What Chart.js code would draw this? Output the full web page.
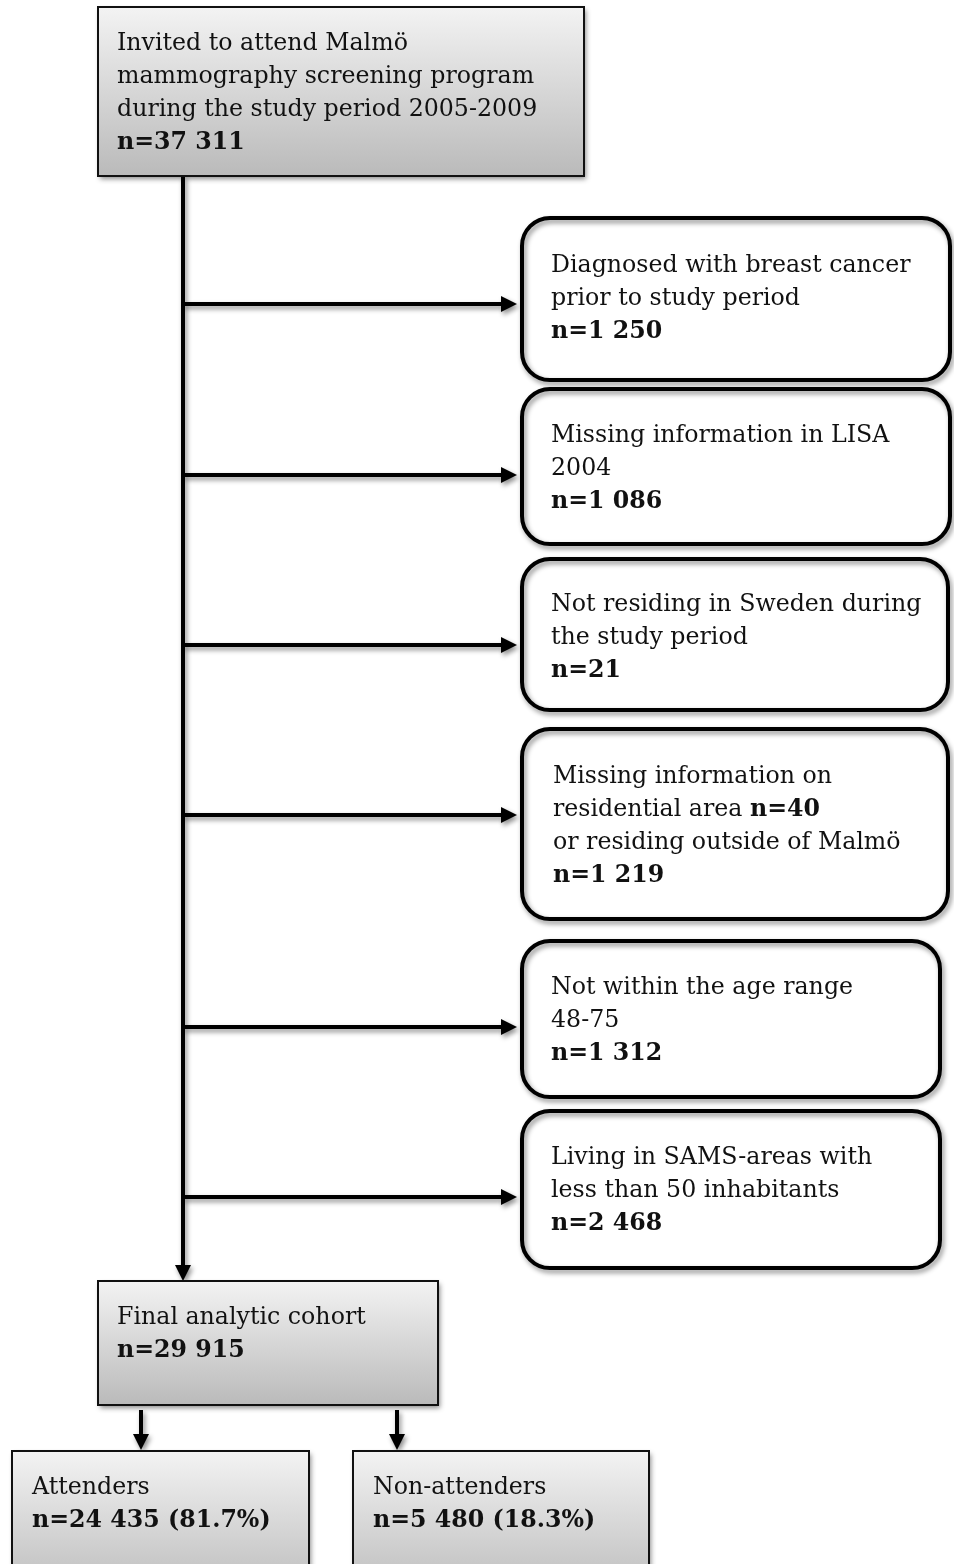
<!DOCTYPE html>
<html>
<head>
<meta charset="utf-8">
<script src="https://cdn.jsdelivr.net/npm/chart.js@4/dist/chart.umd.min.js"></script>
<style>
  html, body { margin: 0; padding: 0; background: #fff; }
  canvas { display: block; }
</style>
</head>
<body>
<canvas id="flow" width="954" height="1564"></canvas>
<script>
// flow chart text and counts
const invitedLines = ['Invited to attend Malmö', 'mammography screening program', 'during the study period 2005-2009']
const invitedN = '37 311'

const exclusionLabels = [
  ['Diagnosed with breast cancer', 'prior to study period'],
  ['Missing information in LISA', '2004'],
  ['Not residing in Sweden during', 'the study period'],
  ['Missing information on', 'residential area **n=40**', 'or residing outside of Malmö'],
  ['Not within the age range', '48-75'],
  ['Living in SAMS-areas with', 'less than 50 inhabitants']
]
const exclusionCounts = ['1 250', '1 086', '21', '1 219', '1 312', '2 468']

const finalLabel = 'Final analytic cohort'
const finalN = '29 915'

const groupLabels = ['Attenders', 'Non-attenders']
const groupCounts = ['24 435', '5 480']
const groupShares = ['81.7%', '18.3%']

// layout, in axis units (x 0-954, y 0-1564 downwards)
const mainBox = [98, 7, 584, 176]
const exclBoxes = [
  [522, 218, 950, 380],
  [522, 389, 950, 544],
  [522, 559, 948, 710],
  [522, 729, 948, 919],
  [522, 941, 940, 1097],
  [522, 1111, 940, 1268]
]
const exclTextPos = [[551, 266], [551, 436], [551, 605], [553, 777], [551, 988], [551, 1158]]
const spineX = 183
const branchY = [304, 475, 645, 815, 1027, 1197]
const branchTip = 517
const finalBox = [98, 1281, 438, 1405]
const groupBoxes = [[12, 1451, 309, 1600], [353, 1451, 649, 1600]]
const groupArrowX = [141, 397]
const lineGap = 33
const fontFamily = '"DejaVu Serif", "Liberation Serif", serif'
const fontSize = 23.7

const flowPlugin = {
  id: 'flow',
  afterDraw(chart) {
    const ctx = chart.ctx
    const sx = chart.scales.x, sy = chart.scales.y
    const px = v => sx.getPixelForValue(v)
    const py = v => sy.getPixelForValue(v)

    const shadowOn = () => {
      ctx.shadowColor = 'rgba(0,0,0,0.45)'
      ctx.shadowBlur = 5
      ctx.shadowOffsetX = 2
      ctx.shadowOffsetY = 3
    }
    const shadowOff = () => {
      ctx.shadowColor = 'transparent'
      ctx.shadowBlur = 0
      ctx.shadowOffsetX = 0
      ctx.shadowOffsetY = 0
    }

    // gray gradient box
    const grayBox = (b) => {
      const x0 = px(b[0]), y0 = py(b[1]), x1 = px(b[2]), y1 = py(b[3])
      const g = ctx.createLinearGradient(0, y0, 0, y1)
      g.addColorStop(0, '#f3f3f3')
      g.addColorStop(1, '#bababa')
      ctx.save()
      shadowOn()
      ctx.fillStyle = g
      ctx.fillRect(x0, y0, x1 - x0, y1 - y0)
      shadowOff()
      ctx.lineWidth = 2
      ctx.strokeStyle = '#111'
      ctx.strokeRect(x0, y0, x1 - x0, y1 - y0)
      ctx.restore()
    }

    const roundBox = (b) => {
      const x0 = px(b[0]), y0 = py(b[1]), x1 = px(b[2]), y1 = py(b[3])
      ctx.save()
      ctx.beginPath()
      ctx.roundRect(x0, y0, x1 - x0, y1 - y0, 28)
      ctx.fillStyle = '#fff'
      ctx.fill()
      shadowOn()
      ctx.lineWidth = 4
      ctx.strokeStyle = '#000'
      ctx.stroke()
      ctx.restore()
    }

    const arrow = (x0, y0, x1, y1) => {
      const X0 = px(x0), Y0 = py(y0), X1 = px(x1), Y1 = py(y1)
      const ang = Math.atan2(Y1 - Y0, X1 - X0)
      const len = 16, half = 8
      ctx.save()
      shadowOn()
      ctx.strokeStyle = '#000'
      ctx.fillStyle = '#000'
      ctx.lineWidth = 4
      ctx.beginPath()
      ctx.moveTo(X0, Y0)
      ctx.lineTo(X1 - Math.cos(ang) * len, Y1 - Math.sin(ang) * len)
      ctx.stroke()
      ctx.beginPath()
      ctx.moveTo(X1, Y1)
      ctx.lineTo(X1 - Math.cos(ang) * len - Math.sin(ang) * half, Y1 - Math.sin(ang) * len + Math.cos(ang) * half)
      ctx.lineTo(X1 - Math.cos(ang) * len + Math.sin(ang) * half, Y1 - Math.sin(ang) * len - Math.cos(ang) * half)
      ctx.closePath()
      ctx.fill()
      ctx.restore()
    }

    // one line, parts in **..** are bold
    const richLine = (text, x, y) => {
      let cx = px(x)
      const parts = text.split('**')
      ctx.textBaseline = 'middle'
      ctx.fillStyle = '#111'
      parts.forEach((p, i) => {
        ctx.font = (i % 2 ? 'bold ' : '') + fontSize + 'px ' + fontFamily
        ctx.fillText(p, cx, py(y))
        cx += ctx.measureText(p).width
      })
    }
    const block = (lines, x, y) => {
      lines.forEach((l, i) => richLine(l, x, y + i * lineGap))
    }

    // spine and branches
    ctx.save()
    shadowOn()
    ctx.lineWidth = 4
    ctx.strokeStyle = '#000'
    ctx.beginPath()
    ctx.moveTo(px(spineX), py(mainBox[3]))
    ctx.lineTo(px(spineX), py(finalBox[1]) - 16)
    ctx.stroke()
    ctx.restore()
    arrow(spineX, finalBox[3] - 140, spineX, finalBox[1])
    branchY.forEach(y => arrow(spineX, y, branchTip, y))

    grayBox(mainBox)
    block(invitedLines.concat(['**n=' + invitedN + '**']), 117, 44)

    exclBoxes.forEach((b, i) => {
      roundBox(b)
      const [tx, ty] = exclTextPos[i]
      block(exclusionLabels[i].concat(['**n=' + exclusionCounts[i] + '**']), tx, ty)
    })

    grayBox(finalBox)
    block([finalLabel, '**n=' + finalN + '**'], 117, 1318)

    groupArrowX.forEach(x => arrow(x, finalBox[3] + 5, x, groupBoxes[0][1] - 1))
    groupBoxes.forEach((b, i) => {
      grayBox(b)
      block([groupLabels[i], '**n=' + groupCounts[i] + ' (' + groupShares[i] + ')**'], b[0] + 20, 1488)
    })
  }
}

new Chart(document.getElementById('flow'), {
  type: 'scatter',
  data: { datasets: [{ data: [], pointRadius: 0 }] },
  options: {
    responsive: false,
    animation: false,
    layout: { padding: 0 },
    plugins: { legend: { display: false }, tooltip: { enabled: false } },
    scales: {
      x: { type: 'linear', min: 0, max: 954, display: false },
      y: { type: 'linear', min: 0, max: 1564, reverse: true, display: false }
    }
  },
  plugins: [flowPlugin]
})
</script>
</body>
</html>
